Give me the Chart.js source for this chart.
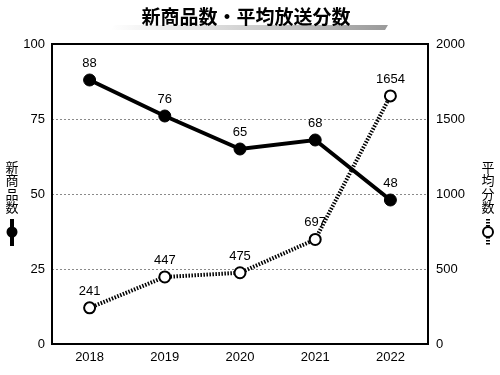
<!DOCTYPE html>
<html><head><meta charset="utf-8">
<script src="https://cdn.jsdelivr.net/npm/chart.js@4/dist/chart.umd.min.js"></script>
<style>html,body{margin:0;padding:0;background:#fff}#wrap{width:500px;height:375px}</style>
</head><body><div id="wrap"><canvas id="c" width="500" height="375"></canvas></div>
<script>
const title = "新商品数・平均放送分数";
const years = ["2018","2019","2020","2021","2022"];
const newProducts = [88,76,65,68,48];
const avgMinutes = [241,447,475,697,1654];
const leftLabel = "新商品数";
const rightLabel = "平均分数";
const leftTicks = [0,25,50,75,100];
const rightTicks = [0,500,1000,1500,2000];

const FONT = "'Liberation Sans', Arial, sans-serif";
const CJK = "'Noto Sans CJK JP', sans-serif";

const deco = {
  id:'deco',
  beforeDatasetsDraw(chart){
    const ctx = chart.ctx, a = chart.chartArea, y = chart.scales.y;
    ctx.save();
    ctx.strokeStyle = '#8a8a8a'; ctx.lineWidth = 1; ctx.setLineDash([2,2]);
    leftTicks.forEach(v=>{
      if (v===0 || v===100) return;
      const py = Math.round(y.getPixelForValue(v)) + 0.5;
      ctx.beginPath(); ctx.moveTo(a.left, py); ctx.lineTo(a.right, py); ctx.stroke();
    });
    ctx.restore();
  },
  afterDraw(chart){
    const ctx = chart.ctx, a = chart.chartArea;
    ctx.save();
    ctx.strokeStyle = '#000'; ctx.lineWidth = 2;
    ctx.strokeRect(a.left, a.top, a.right-a.left, a.bottom-a.top);
    const g = ctx.createLinearGradient(110,0,390,0);
    g.addColorStop(0,'#ffffff'); g.addColorStop(0.5,'#d0d0d0'); g.addColorStop(1,'#999999');
    ctx.fillStyle = g;
    ctx.beginPath(); ctx.moveTo(114,25); ctx.lineTo(388,25); ctx.lineTo(385,30); ctx.lineTo(111,30); ctx.closePath(); ctx.fill();
    ctx.fillStyle = '#000';
    ctx.font = "bold 19px " + CJK;
    ctx.textAlign='center'; ctx.textBaseline='middle';
    ctx.fillText(title, 246, 17);
    ctx.font = "13px " + CJK;
    Array.from(leftLabel).forEach((ch,i)=>ctx.fillText(ch, 12, 167 + i*13.5));
    Array.from(rightLabel).forEach((ch,i)=>ctx.fillText(ch, 488, 167 + i*13.5));
    ctx.lineWidth = 4; ctx.strokeStyle='#000';
    ctx.beginPath(); ctx.moveTo(12,219); ctx.lineTo(12,246); ctx.stroke();
    ctx.beginPath(); ctx.arc(12,232,5.5,0,Math.PI*2); ctx.fill();
    ctx.setLineDash([1.5,1.5]);
    ctx.beginPath(); ctx.moveTo(488,219); ctx.lineTo(488,246); ctx.stroke();
    ctx.setLineDash([]);
    ctx.fillStyle='#fff'; ctx.lineWidth=2;
    ctx.beginPath(); ctx.arc(488,232,5,0,Math.PI*2); ctx.fill(); ctx.stroke();
    ctx.fillStyle='#000'; ctx.font = "13px " + FONT; ctx.textAlign='center'; ctx.textBaseline='alphabetic';
    chart.data.datasets.forEach((ds,di)=>{
      chart.getDatasetMeta(di).data.forEach((p,i)=>{
        ctx.fillText(String(ds.data[i]), p.x, p.y - 13);
      });
    });
    ctx.restore();
  }
};

new Chart(document.getElementById('c'), {
  type:'line',
  data:{labels:years, datasets:[
    {label:leftLabel, data:newProducts, yAxisID:'y', borderColor:'#000', borderWidth:4,
     pointRadius:6, pointBackgroundColor:'#000', pointBorderColor:'#000', pointBorderWidth:1, order:1},
    {label:rightLabel, data:avgMinutes, yAxisID:'y1', borderColor:'#000', borderWidth:4, borderDash:[1.5,1.5],
     pointRadius:5.5, pointBackgroundColor:'#fff', pointBorderColor:'#000', pointBorderWidth:2, order:2}
  ]},
  options:{
    responsive:false, animation:false,
    layout:{padding:{top:44,left:0,right:0,bottom:0}},
    plugins:{legend:{display:false}, tooltip:{enabled:false}, title:{display:false}},
    scales:{
      x:{offset:true, grid:{display:false, drawTicks:false}, border:{display:false},
         ticks:{color:'#000', font:{family:FONT,size:13}, padding:6},
         afterFit(s){s.height=31;}},
      y:{position:'left', min:0, max:100, afterBuildTicks(s){s.ticks=leftTicks.map(v=>({value:v}));},
         grid:{display:false, drawTicks:false}, border:{display:false},
         ticks:{color:'#000', font:{family:FONT,size:13}, padding:7, callback:v=>String(v)},
         afterFit(s){s.width=52;}},
      y1:{position:'right', min:0, max:2000, afterBuildTicks(s){s.ticks=rightTicks.map(v=>({value:v}));},
         grid:{display:false, drawTicks:false}, border:{display:false},
         ticks:{color:'#000', font:{family:FONT,size:13}, padding:8, callback:v=>String(v)},
         afterFit(s){s.width=72;}}
    }
  },
  plugins:[deco]
});
</script></body></html>
